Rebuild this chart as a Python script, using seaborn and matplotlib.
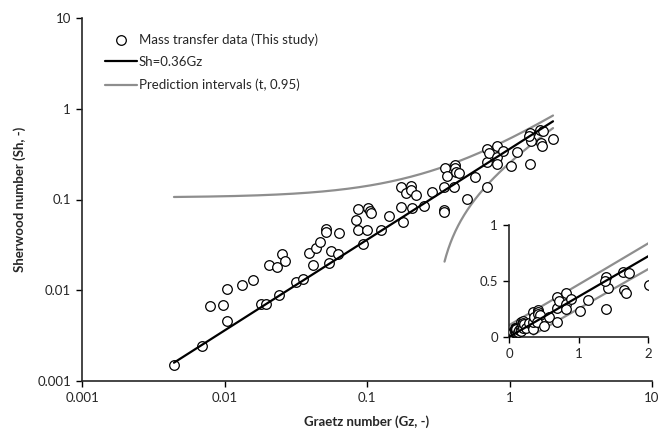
import numpy as np
import pandas as pd
import matplotlib
matplotlib.use("Agg")
import matplotlib.pyplot as plt
import seaborn as sns

# Measured Graetz / Sherwood numbers
gz = [0.00442, 0.00695, 0.00791, 0.00976, 0.01041, 0.01041, 0.01327, 0.01585,
      0.01803, 0.01954, 0.0205, 0.0233, 0.0241, 0.0254, 0.0266, 0.0318,
      0.0356, 0.0392, 0.0418, 0.0439, 0.0468, 0.0515, 0.0515, 0.0541,
      0.0558, 0.0625, 0.0637, 0.0865, 0.0838, 0.0865, 0.0938, 0.100,
      0.1017, 0.105, 0.1067, 0.125, 0.1425, 0.173, 0.173, 0.179,
      0.188, 0.204, 0.204, 0.207, 0.221, 0.251, 0.286, 0.347,
      0.347, 0.347, 0.352, 0.364, 0.415, 0.415, 0.422, 0.443,
      0.408, 0.504, 0.573, 0.695, 0.695, 0.695, 0.718, 0.817,
      0.817, 0.817, 0.899, 1.025, 1.13, 1.39, 1.40, 1.42,
      1.64, 1.66, 1.69, 2.02, 1.73, 1.38]
sh = [0.00150, 0.00243, 0.0067, 0.00687, 0.01033, 0.00458, 0.01143, 0.01297,
      0.00705, 0.00705, 0.01897, 0.01803, 0.00887, 0.02508, 0.0210, 0.01233,
      0.0133, 0.0257, 0.0190, 0.0292, 0.0340, 0.0473, 0.0439, 0.0200,
      0.0271, 0.0251, 0.0428, 0.0785, 0.0594, 0.0461, 0.0324, 0.0461,
      0.0805, 0.0747, 0.0710, 0.0461, 0.0658, 0.1374, 0.0826, 0.0565,
      0.118, 0.141, 0.127, 0.0805, 0.112, 0.0848, 0.121, 0.0766,
      0.0728, 0.1374, 0.222, 0.1815, 0.240, 0.222, 0.201, 0.196,
      0.1374, 0.1014, 0.177, 0.360, 0.259, 0.1374, 0.325, 0.389,
      0.294, 0.246, 0.342, 0.234, 0.334, 0.54, 0.246, 0.44,
      0.58, 0.42, 0.39, 0.46, 0.57, 0.50]

# Correlation Sh = a*Gz and its 95 % prediction band (t-based)
slope = 0.36
band_halfwidth = 0.105     # t * s at Gz -> 0
band_sxx = 20.0            # sum of Gz^2 of the regression
gz_min, gz_max = 0.00442, 2.02
gz_lower_start = 0.35

data = pd.DataFrame({"Gz": gz, "Sh": sh})

gz_fit = np.logspace(np.log10(gz_min), np.log10(gz_max), 300)
fit = pd.DataFrame({"Gz": gz_fit, "Sh": slope * gz_fit})
half = band_halfwidth * np.sqrt(1.0 + gz_fit ** 2 / band_sxx)
upper = pd.DataFrame({"Gz": gz_fit, "Sh": slope * gz_fit + half})
gz_lo = np.logspace(np.log10(gz_lower_start), np.log10(gz_max), 200)
lower = pd.DataFrame({"Gz": gz_lo,
                      "Sh": slope * gz_lo - band_halfwidth * np.sqrt(1.0 + gz_lo ** 2 / band_sxx)})

sns.set_style("ticks")
plt.rcParams["font.family"] = ["Lato", "DejaVu Sans"]
plt.rcParams["axes.linewidth"] = 1.2
plt.rcParams["xtick.major.width"] = 1.0
plt.rcParams["ytick.major.width"] = 1.0

FS = 9.5
GREY = "#8e8e8e"

fig = plt.figure(figsize=(6.67, 4.29), dpi=100)
ax = fig.add_axes([82 / 667, 1 - 381 / 429, 570 / 667, 363 / 429])

sns.scatterplot(data=data, x="Gz", y="Sh", ax=ax, marker="o", s=48,
                facecolor="white", edgecolor="black", linewidth=0.9,
                label="Mass transfer data (This study)", zorder=3)
sns.lineplot(data=fit, x="Gz", y="Sh", ax=ax, color="black", lw=1.6,
             label="Sh=0.36Gz", zorder=4)
sns.lineplot(data=upper, x="Gz", y="Sh", ax=ax, color=GREY, lw=1.6,
             label="Prediction intervals (t, 0.95)", zorder=2)
sns.lineplot(data=lower, x="Gz", y="Sh", ax=ax, color=GREY, lw=1.6, zorder=2)

ax.set_xscale("log")
ax.set_yscale("log")
ax.set_xlim(0.001, 10)
ax.set_ylim(0.001, 10)
ax.set_xticks([0.001, 0.01, 0.1, 1, 10])
ax.set_xticklabels(["0.001", "0.01", "0.1", "1", "10"])
ax.set_yticks([0.001, 0.01, 0.1, 1, 10])
ax.set_yticklabels(["0.001", "0.01", "0.1", "1", "10"])
ax.minorticks_off()
ax.tick_params(axis="both", labelsize=FS, length=4, color="black", pad=4)
ax.set_xlabel("Graetz number (Gz, -)", fontsize=FS, fontweight="bold", labelpad=8)
ax.set_ylabel("Sherwood number (Sh, -)", fontsize=FS, fontweight="bold", labelpad=8)
sns.despine(ax=ax)

leg = ax.legend(loc="upper left", bbox_to_anchor=(105 / 667, 1 - 33 / 429),
                bbox_transform=fig.transFigure, frameon=False, fontsize=FS,
                borderpad=0, borderaxespad=0, handlelength=2.4,
                handletextpad=0.15, labelspacing=0.8)

# Linear-scale inset
ins = fig.add_axes([509 / 667, 1 - 337 / 429, 139 / 667, 112 / 429])
sns.scatterplot(data=data, x="Gz", y="Sh", ax=ins, marker="o", s=48,
                facecolor="white", edgecolor="black", linewidth=0.9, zorder=3,
                legend=False)
sns.lineplot(data=fit, x="Gz", y="Sh", ax=ins, color="black", lw=1.6, zorder=4)
sns.lineplot(data=upper, x="Gz", y="Sh", ax=ins, color=GREY, lw=1.6, zorder=2)
sns.lineplot(data=lower, x="Gz", y="Sh", ax=ins, color=GREY, lw=1.6, zorder=2)
ins.set_xlim(0, 2)
ins.set_ylim(0, 1)
ins.set_xticks([0, 1, 2])
ins.set_xticklabels(["0", "1", "2"])
ins.set_yticks([0, 0.5, 1])
ins.set_yticklabels(["0", "0.5", "1"])
ins.tick_params(axis="both", labelsize=FS, length=4, color="black", pad=4)
ins.set_xlabel("")
ins.set_ylabel("")
ins.patch.set_alpha(0)
sns.despine(ax=ins)

fig.savefig("out.png", dpi=100)
